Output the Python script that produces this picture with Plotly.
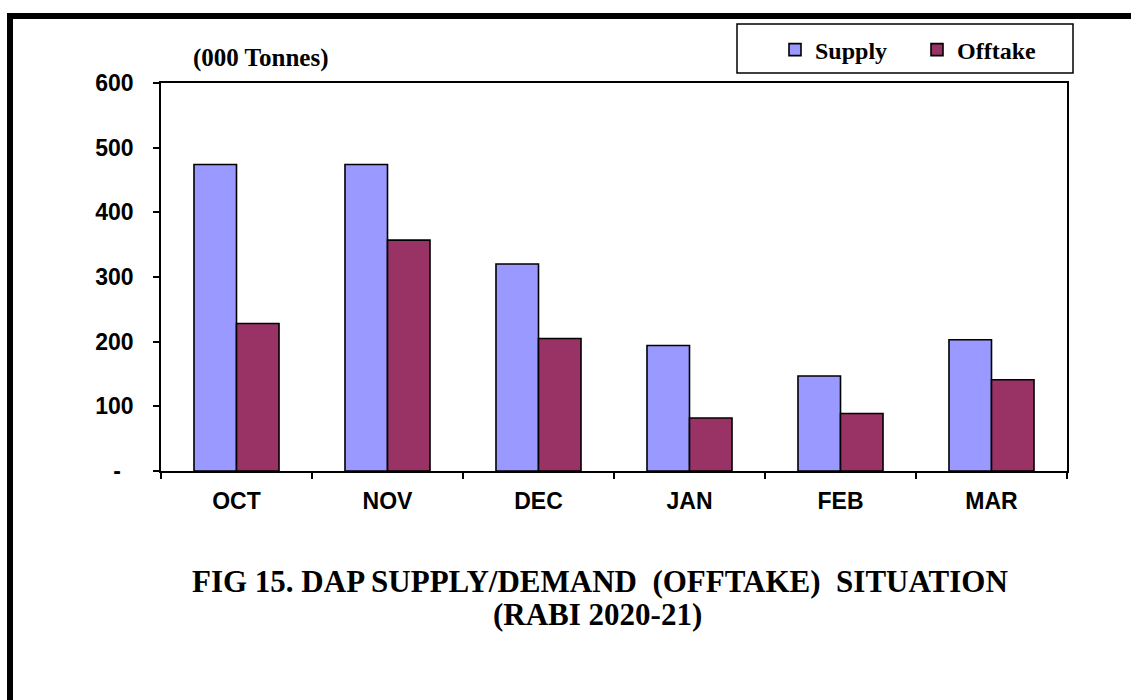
import plotly.graph_objects as go

months = ["OCT", "NOV", "DEC", "JAN", "FEB", "MAR"]
supply = [474, 474, 320, 194, 147, 203]
offtake = [228, 357, 205, 82, 89, 141]
ytick_vals = [0, 100, 200, 300, 400, 500, 600]
ytick_text = ["-\u00a0\u00a0", "100", "200", "300", "400", "500", "600"]

W, H = 1131, 700
L, R, T, B = 161, 1067, 83, 471  # plot area in px

def px_x(x):
    return (x - L) / (R - L)

def px_y(y):
    return (B - y) / (B - T)

SANS = "Liberation Sans, Arial, sans-serif"
SERIF = "Liberation Serif, Times New Roman, serif"

fig = go.Figure()
fig.add_trace(go.Bar(name="Supply", x=months, y=supply,
                     marker=dict(color="#9999FF", line=dict(color="black", width=1.6))))
fig.add_trace(go.Bar(name="Offtake", x=months, y=offtake,
                     marker=dict(color="#993366", line=dict(color="black", width=1.6))))

fig.update_layout(
    width=W, height=H,
    margin=dict(l=L, r=W - R, t=T, b=H - B, pad=0),
    paper_bgcolor="white", plot_bgcolor="white",
    barmode="group", bargap=0.437, bargroupgap=0,
    showlegend=True,
    legend=dict(orientation="h", x=px_x(775), xanchor="left",
                y=px_y(50), yanchor="middle",
                bgcolor="rgba(0,0,0,0)", borderwidth=0,
                font=dict(family=SERIF, size=24, color="black", weight="bold"),
                entrywidth=97, entrywidthmode="pixels"),
    xaxis=dict(showline=True, linecolor="black", linewidth=1.5, mirror=True,
               ticks="outside", ticklen=6, tickwidth=1.5, tickcolor="black",
               tickson="boundaries", showgrid=False,
               tickfont=dict(family=SANS, size=23, color="black", weight="bold"),
               ticklabelstandoff=9),
    yaxis=dict(range=[0, 600], tickvals=ytick_vals, ticktext=ytick_text,
               showline=True, linecolor="black", linewidth=1.5, mirror=True,
               ticks="outside", ticklen=6, tickwidth=1.5, tickcolor="black",
               showgrid=False, zeroline=False,
               tickfont=dict(family=SANS, size=23, color="black", weight="bold"),
               ticklabelstandoff=15),
    shapes=[
        # outer frame (cut off at right/bottom)
        dict(type="rect", xref="paper", yref="paper",
             x0=px_x(10), x1=px_x(1160), y0=px_y(730), y1=px_y(16),
             line=dict(color="black", width=6), fillcolor="rgba(0,0,0,0)", layer="below"),
        # legend box
        dict(type="rect", xref="paper", yref="paper",
             x0=px_x(737), x1=px_x(1073), y0=px_y(73), y1=px_y(24),
             line=dict(color="black", width=1.5), fillcolor="white", layer="below"),
    ],
    annotations=[
        dict(text="(000 Tonnes)", xref="paper", yref="paper",
             x=px_x(260), y=px_y(58), xanchor="center", yanchor="middle",
             showarrow=False, font=dict(family=SERIF, size=25, color="black", weight="bold")),
        dict(text="FIG 15. DAP SUPPLY/DEMAND\u00a0\u00a0(OFFTAKE)\u00a0\u00a0SITUATION",
             xref="paper", yref="paper", x=px_x(600), y=px_y(581),
             xanchor="center", yanchor="middle", showarrow=False,
             font=dict(family=SERIF, size=31, color="black", weight="bold")),
        dict(text="(RABI 2020-21)",
             xref="paper", yref="paper", x=px_x(597), y=px_y(614),
             xanchor="center", yanchor="middle", showarrow=False,
             font=dict(family=SERIF, size=31, color="black", weight="bold")),
    ],
)

fig.write_html("out.html", config={"displayModeBar": False},
               post_script="document.body.style.margin='0px';")
